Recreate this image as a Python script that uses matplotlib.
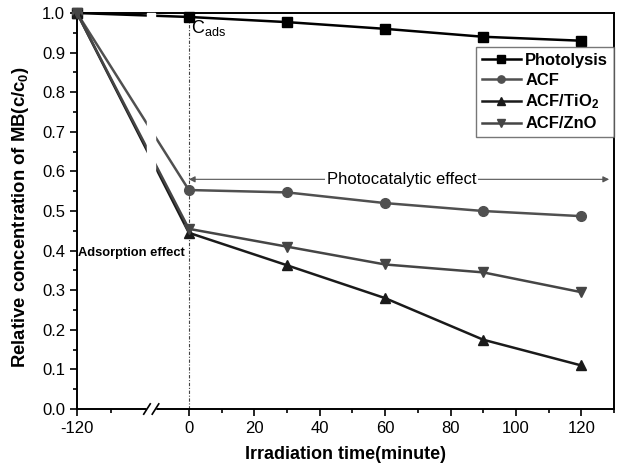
import matplotlib
matplotlib.use("Agg")
import matplotlib.pyplot as plt
from matplotlib.lines import Line2D

plt.rcParams["font.family"] = ["Liberation Sans", "DejaVu Sans"]
plt.rcParams["mathtext.fontset"] = "custom"
plt.rcParams["mathtext.rm"] = "Liberation Sans"
plt.rcParams["mathtext.bf"] = "Liberation Sans:bold"
plt.rcParams["mathtext.it"] = "Liberation Sans:italic"

# data (minutes; -120 is the start of the dark adsorption stage)
time = [-120, 0, 30, 60, 90, 120]
photolysis = [1.0, 0.99, 0.977, 0.96, 0.94, 0.93]
acf = [1.0, 0.553, 0.547, 0.52, 0.50, 0.487]
acf_tio2 = [1.0, 0.445, 0.363, 0.28, 0.175, 0.11]
acf_zno = [1.0, 0.455, 0.41, 0.365, 0.345, 0.295]
labels = ["Photolysis", r"ACF", r"ACF/TiO$_\mathbf{2}$", "ACF/ZnO"]

# broken axis: the -120..0 stretch is squeezed into a short segment
LEFT = -34.2


def warp(t):
    return t if t >= 0 else LEFT * (t / -120.0)


fig = plt.figure(figsize=(6.23, 4.71), dpi=100)
ax = fig.add_axes([0.1236, 0.1316, 0.862, 0.8408])

styles = [("s", "#000000"), ("o", "#505050"), ("^", "#1a1a1a"), ("v", "#454545")]
for ys, lab, (mk, col) in zip([photolysis, acf, acf_tio2, acf_zno], labels, styles):
    ax.plot([warp(t) for t in time], ys, marker=mk, color=col, lw=1.8, ms=7,
            label=lab, clip_on=False, zorder=3)

ax.set_xlim(LEFT, 130)
ax.set_ylim(0, 1.0)

# break gap + slashes
gap0, gap1 = -12.8, -10.2
ax.axvspan(gap0, gap1, color="white", zorder=4, clip_on=False)
ax.fill_between([gap0, gap1], [-0.01, -0.01], [0.01, 0.01], color="white",
                zorder=4, clip_on=False)
for xc in (gap0, gap1):
    ax.add_line(Line2D([xc - 1.0, xc + 1.0], [-0.013, 0.013], color="black",
                       lw=1.2, clip_on=False, zorder=5))

ax.axvline(0, color="#444444", lw=0.8, ls=(0, (3, 1.5, 1, 1.5)), zorder=1)

major = [-120, 0, 20, 40, 60, 80, 100, 120]
ax.set_xticks([warp(t) for t in major])
ax.set_xticklabels([str(t) for t in major])
ax.set_xticks([warp(-83)] + list(range(10, 131, 20)), minor=True)
ax.set_yticks([i / 10 for i in range(11)])
ax.set_yticks([i / 20 for i in range(1, 20, 2)], minor=True)
ax.tick_params(which="major", direction="out", length=5, width=1.2, labelsize=12)
ax.tick_params(which="minor", direction="out", length=3, width=1.2)
for s in ax.spines.values():
    s.set_linewidth(1.4)

ax.set_xlabel("Irradiation time(minute)", fontsize=13, fontweight="bold", labelpad=7)
ax.set_ylabel(r"Relative concentration of MB(c/c$_\mathbf{0}$)", fontsize=13.3,
              fontweight="bold")
ax.yaxis.set_label_coords(-0.085, 0.485)

ax.text(0.8, 0.962, r"C$_{\mathrm{ads}}$", fontsize=13, va="center", ha="left")
ax.text(warp(-120) + 0.3, 0.395, "Adsorption effect", fontsize=9.3, fontweight="bold",
        va="center", ha="left", zorder=6)
ax.annotate("", xy=(0, 0.58), xytext=(128.5, 0.58),
            arrowprops=dict(arrowstyle="<|-|>", color="#555555", lw=0.8,
                            shrinkA=0, shrinkB=0, mutation_scale=9))
ax.text(65, 0.58, "Photocatalytic effect", fontsize=12, ha="center", va="center",
        bbox=dict(facecolor="white", edgecolor="none", pad=1))

leg = ax.legend(loc="upper right", bbox_to_anchor=(1.0, 0.914), fancybox=False,
                prop={"weight": "bold", "size": 11.9}, handlelength=2.4,
                borderaxespad=0, labelspacing=0.3, handletextpad=0.25,
                borderpad=0.35, markerscale=0.75)
leg.get_frame().set_edgecolor("#555555")
leg.get_frame().set_linewidth(1.0)

fig.savefig("out.png", dpi=100)
